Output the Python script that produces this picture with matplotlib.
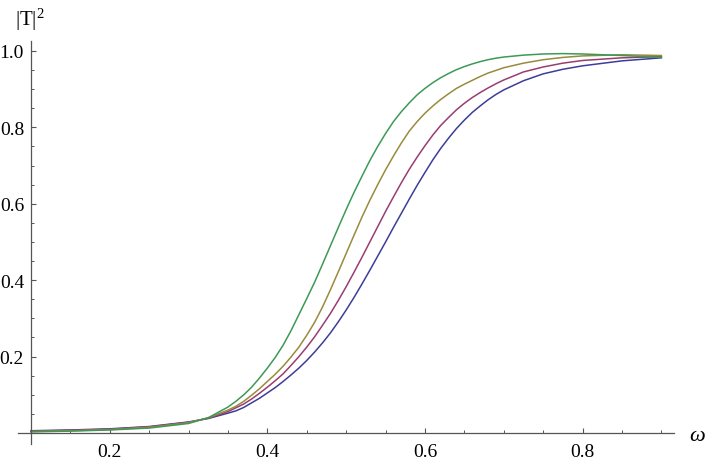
import matplotlib
matplotlib.use('Agg')
import matplotlib.pyplot as plt
from matplotlib.ticker import FixedLocator, MultipleLocator

# values
omega = [0.10, 0.15, 0.20, 0.25, 0.30, 0.325, 0.35,
         0.36, 0.37, 0.38, 0.39, 0.40, 0.41, 0.42, 0.43, 0.44, 0.45,
         0.46, 0.47, 0.48, 0.49, 0.50, 0.51, 0.52, 0.53, 0.54, 0.55,
         0.56, 0.57, 0.58, 0.59, 0.60, 0.61, 0.62, 0.63, 0.64, 0.65,
         0.66, 0.67, 0.68, 0.69, 0.70,
         0.725, 0.75, 0.775, 0.80, 0.85, 0.90]

t_blue = [0.006, 0.008, 0.011, 0.017, 0.029, 0.038, 0.052,
          0.058, 0.067, 0.079, 0.091, 0.105, 0.119, 0.135, 0.152, 0.170, 0.190,
          0.212, 0.236, 0.262, 0.291, 0.322, 0.355, 0.390, 0.426, 0.463, 0.500,
          0.538, 0.575, 0.612, 0.648, 0.682, 0.715, 0.745, 0.772, 0.797, 0.819,
          0.839, 0.856, 0.872, 0.886, 0.898,
          0.922, 0.940, 0.952, 0.961, 0.974, 0.982]
t_red = [0.005, 0.007, 0.010, 0.016, 0.028, 0.039, 0.056,
         0.066, 0.076, 0.089, 0.104, 0.120, 0.137, 0.155, 0.177, 0.200, 0.225,
         0.252, 0.282, 0.313, 0.347, 0.383, 0.421, 0.460, 0.500, 0.540, 0.580,
         0.618, 0.655, 0.690, 0.722, 0.752, 0.780, 0.805, 0.826, 0.846, 0.863,
         0.878, 0.891, 0.903, 0.914, 0.924,
         0.945, 0.958, 0.968, 0.975, 0.982, 0.985]
t_yellow = [0.004, 0.006, 0.009, 0.015, 0.027, 0.040, 0.060,
            0.070, 0.083, 0.099, 0.116, 0.135, 0.154, 0.175, 0.199, 0.225, 0.256,
            0.290, 0.330, 0.375, 0.422, 0.470, 0.518, 0.565, 0.609, 0.650, 0.689,
            0.725, 0.759, 0.790, 0.815, 0.837, 0.856, 0.873, 0.888, 0.902, 0.913,
            0.923, 0.933, 0.942, 0.949, 0.956,
            0.968, 0.977, 0.983, 0.987, 0.990, 0.988]
t_green = [0.003, 0.005, 0.008, 0.013, 0.025, 0.040, 0.068,
           0.083, 0.100, 0.120, 0.144, 0.170, 0.198, 0.230, 0.268, 0.310, 0.352,
           0.395, 0.442, 0.490, 0.538, 0.585, 0.630, 0.672, 0.713, 0.750, 0.784,
           0.815, 0.841, 0.864, 0.885, 0.902, 0.917, 0.930, 0.941, 0.951, 0.959,
           0.966, 0.972, 0.977, 0.981, 0.984,
           0.989, 0.992, 0.993, 0.992, 0.988, 0.983]

curves = [t_blue, t_red, t_yellow, t_green]
colors = ['#3d3d99', '#993d71', '#998b3d', '#3d9956']

x_ticks = [0.2, 0.4, 0.6, 0.8]
y_ticks = [0.2, 0.4, 0.6, 0.8, 1.0]

plt.rcParams['font.family'] = 'serif'
plt.rcParams['font.serif'] = ['Liberation Serif', 'DejaVu Serif']
plt.rcParams['mathtext.fontset'] = 'custom'
plt.rcParams['mathtext.rm'] = 'Liberation Serif'
plt.rcParams['mathtext.it'] = 'Liberation Serif:italic'

fig = plt.figure(figsize=(7.06, 4.64), dpi=100)
ax = fig.add_axes([0.0255, 0.0399, 0.9297, 0.8696])

for ys, c in zip(curves, colors):
    ax.plot(omega, ys, color=c, lw=1.1)

ax.set_xlim(0.0835, 0.9165)
ax.set_ylim(-0.03, 1.026)

# axes cross at (0.1, 0) like the original
ax.spines['left'].set_position(('data', 0.1))
ax.spines['bottom'].set_position(('data', 0.0))
ax.spines['top'].set_visible(False)
ax.spines['right'].set_visible(False)
for s in ['left', 'bottom']:
    ax.spines[s].set_color('#555555')
    ax.spines[s].set_linewidth(0.9)

ax.xaxis.set_major_locator(FixedLocator(x_ticks))
ax.xaxis.set_minor_locator(MultipleLocator(0.05))
ax.yaxis.set_major_locator(FixedLocator(y_ticks))
ax.yaxis.set_minor_locator(MultipleLocator(0.05))
ax.set_xticklabels([f'{v:.1f}' for v in x_ticks])
ax.set_yticklabels([f'{v:.1f}' for v in y_ticks])

ax.tick_params(which='both', direction='in', color='#555555', labelsize=14)
ax.tick_params(which='major', length=3.5, width=0.8)
ax.tick_params(which='minor', length=2.0, width=0.7)
ax.tick_params(axis='x', pad=7)
ax.tick_params(axis='y', pad=5)

fig.text(30 / 706, 1 - 20 / 464, r'$|\mathrm{T}|^2$', fontsize=15,
         ha='center', va='center')
fig.text(697 / 706, 1 - 437 / 464, r'$\omega$', fontsize=16,
         ha='center', va='center')

fig.savefig('out.png', dpi=100)
